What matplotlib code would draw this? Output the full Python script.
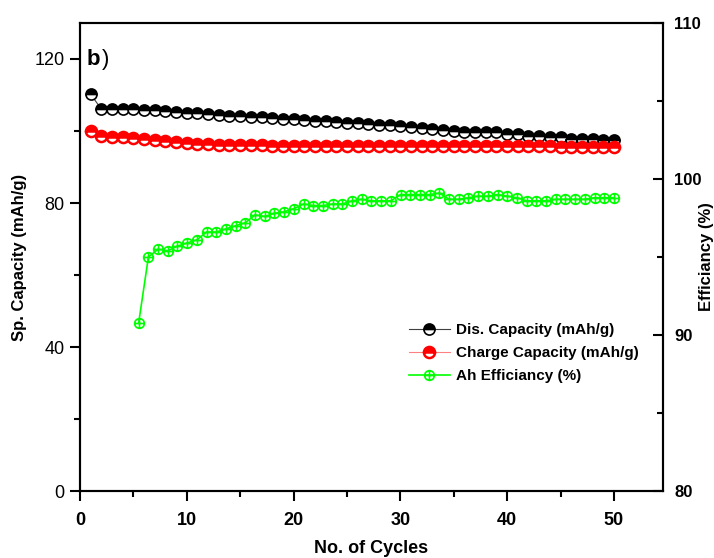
import numpy as np
import matplotlib
matplotlib.use("Agg")
import matplotlib.pyplot as plt
from matplotlib.path import Path
from matplotlib.ticker import MultipleLocator
from matplotlib.font_manager import FontProperties

cycles = list(range(1, 51))
dis_capacity = [110.2, 106.1, 106.1, 106.0, 106.0, 105.9, 105.7, 105.5, 105.3, 105.1,
                104.9, 104.7, 104.5, 104.3, 104.2, 104.0, 103.8, 103.6, 103.4, 103.2,
                103.0, 102.9, 102.7, 102.5, 102.3, 102.1, 101.9, 101.7, 101.6, 101.4,
                101.0, 100.8, 100.5, 100.2, 100.1, 99.8, 99.8, 99.7, 99.6, 99.3,
                99.1, 98.7, 98.7, 98.4, 98.2, 97.9, 97.8, 97.8, 97.6, 97.5]
charge_capacity = [100.0, 98.7, 98.4, 98.2, 98.0, 97.8, 97.6, 97.3, 97.0, 96.7,
                   96.5, 96.4, 96.1, 96.1, 96.0, 96.0, 96.0, 95.9, 95.9, 95.9,
                   95.9, 95.9, 95.9, 95.9, 95.9, 95.9, 95.9, 95.9, 95.9, 95.8,
                   95.8, 95.8, 95.8, 95.8, 95.8, 95.8, 95.8, 95.8, 95.8, 95.7,
                   95.7, 95.7, 95.7, 95.7, 95.6, 95.6, 95.6, 95.5, 95.5, 95.5]
eff_cycles = np.linspace(5.5, 50, 50)
efficiency = [90.8, 95.0, 95.5, 95.4, 95.7, 95.9, 96.1, 96.6, 96.6, 96.8,
              97.0, 97.2, 97.7, 97.6, 97.8, 97.9, 98.1, 98.4, 98.3, 98.3,
              98.4, 98.4, 98.6, 98.7, 98.6, 98.6, 98.6, 99.0, 99.0, 99.0,
              99.0, 99.1, 98.7, 98.7, 98.8, 98.9, 98.9, 99.0, 98.9, 98.8,
              98.6, 98.6, 98.6, 98.7, 98.7, 98.7, 98.7, 98.8, 98.8, 98.8]

x_ticks = [0, 10, 20, 30, 40, 50]
left_ticks = [0, 40, 80, 120]
right_ticks = [80, 90, 100, 110]

bold = dict(family="Liberation Sans", weight="bold")
narrow = dict(family=["Liberation Sans Narrow", "Liberation Sans"], weight="bold")

fig = plt.figure(figsize=(7.14, 5.58), dpi=100)
ax = fig.add_axes([0.112, 0.120, 0.8166, 0.8388])
ax2 = ax.twinx()

circle_plus = Path.make_compound_path(
    Path.unit_circle(),
    Path([[-1, 0], [1, 0]]),
    Path([[0, -1], [0, 1]]),
)

l1, = ax.plot(cycles, dis_capacity, color="#404040", lw=0.8, marker="o", ms=8,
              fillstyle="top", markerfacecolor="black", markerfacecoloralt="white",
              markeredgecolor="black", markeredgewidth=1.2,
              label="Dis. Capacity (mAh/g)", zorder=3)
l2, = ax.plot(cycles, charge_capacity, color="#ff8080", lw=0.8, marker="o", ms=8,
              fillstyle="top", markerfacecolor="red", markerfacecoloralt="white",
              markeredgecolor="red", markeredgewidth=1.8,
              label="Charge Capacity (mAh/g)", zorder=3)
l3, = ax2.plot(eff_cycles, efficiency, color="#00ff00", lw=1.2, marker=circle_plus,
               ms=7, markerfacecolor="none", markeredgecolor="#00ff00",
               markeredgewidth=1.2, label="Ah Efficiancy (%)", zorder=3)

ax.set_xlim(0, 54.6)
ax.set_ylim(0, 130)
ax2.set_ylim(80, 110)

ax.set_xticks(x_ticks)
ax.xaxis.set_minor_locator(MultipleLocator(5))
ax.set_yticks(left_ticks)
ax.yaxis.set_minor_locator(MultipleLocator(20))
ax2.set_yticks(right_ticks)
ax2.yaxis.set_minor_locator(MultipleLocator(5))

for a in (ax, ax2):
    for s in a.spines.values():
        s.set_linewidth(1.5)

ax.tick_params(axis="x", which="major", direction="out", length=7, width=1.5, pad=8)
ax.tick_params(axis="x", which="minor", direction="out", length=4, width=1.5)
ax.tick_params(axis="y", which="major", direction="out", length=7, width=1.5, pad=4)
ax.tick_params(axis="y", which="minor", direction="out", length=4, width=1.5)
ax2.tick_params(axis="y", which="major", direction="in", length=7, width=1.5, pad=8)
ax2.tick_params(axis="y", which="minor", direction="in", length=4, width=1.5)

for lab in ax.get_xticklabels():
    lab.set_fontproperties(FontProperties(
        family=["Liberation Sans Narrow", "Liberation Sans"], weight="bold", size=13))
for lab in ax.get_yticklabels():
    lab.set_fontproperties(FontProperties(family="Liberation Sans", weight="normal", size=13))
for lab in ax2.get_yticklabels():
    lab.set_fontproperties(FontProperties(family="Liberation Sans", weight="bold", size=12))

ax.set_xlabel("No. of Cycles", fontsize=13, va="center", **narrow)
ax.xaxis.set_label_coords(0.5, -0.122)
ax.set_ylabel("Sp. Capacity (mAh/g)", fontsize=12, va="center", **bold)
ax.yaxis.set_label_coords(-0.103, 0.5)
ax2.set_ylabel("Efficiancy (%)", fontsize=12, va="center", **bold)
ax2.yaxis.set_label_coords(1.074, 0.5)

ax.text(0.012, 0.945, "b", transform=ax.transAxes, fontsize=16, va="top", **bold)
ax.text(0.037, 0.945, ")", transform=ax.transAxes, fontsize=16, va="top",
        family="Liberation Sans")

leg = ax2.legend(handles=[l1, l2, l3], loc="upper left",
                 bbox_to_anchor=(0.553, 0.446), bbox_transform=fig.transFigure,
                 frameon=False, handlelength=2.7, handletextpad=0.4,
                 labelspacing=0.6, prop=dict(family="Liberation Sans", weight="bold", size=11))

fig.savefig("out.png", dpi=100)
